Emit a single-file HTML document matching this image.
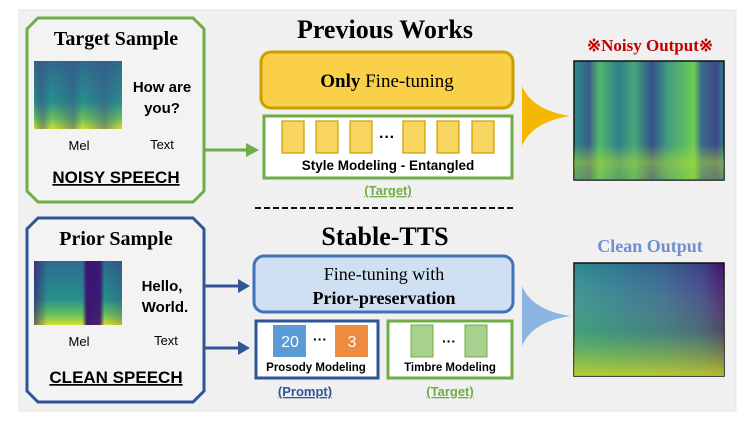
<!DOCTYPE html>
<html><head><meta charset="utf-8"><style>
body{margin:0;background:#fff;width:752px;height:426px;overflow:hidden}
svg{display:block}
.s{font-family:"Liberation Sans","DejaVu Sans",sans-serif}
.t{font-family:"Liberation Serif",serif;font-weight:bold}
</style></head><body>
<svg width="752" height="426" viewBox="0 0 752 426">
<defs>
<linearGradient id="v1" x1="0" y1="0" x2="0" y2="1"><stop offset="0" stop-color="#2f6a8e"/><stop offset=".6" stop-color="#27908b"/><stop offset=".85" stop-color="#6cc35a"/><stop offset="1" stop-color="#d6e02a"/></linearGradient>
<linearGradient id="h1" x1="0" y1="0" x2="1" y2="0">
<stop offset="0" stop-color="#440d5a" stop-opacity=".0"/><stop offset=".1" stop-color="#3b528b" stop-opacity=".5"/><stop offset=".2" stop-color="#3b528b" stop-opacity="0"/><stop offset=".45" stop-color="#3b528b" stop-opacity=".5"/><stop offset=".55" stop-color="#3b528b" stop-opacity="0"/><stop offset=".8" stop-color="#3b528b" stop-opacity=".5"/><stop offset="1" stop-color="#3b528b" stop-opacity="0"/></linearGradient>
<linearGradient id="h2" x1="0" y1="0" x2="1" y2="0">
<stop offset="0" stop-color="#3b0f70" stop-opacity=".6"/><stop offset=".15" stop-color="#3b0f70" stop-opacity="0"/><stop offset=".55" stop-color="#3b0f70" stop-opacity="0"/><stop offset=".6" stop-color="#3b0f70" stop-opacity=".95"/><stop offset=".75" stop-color="#3b0f70" stop-opacity=".9"/><stop offset=".8" stop-color="#3b0f70" stop-opacity="0"/><stop offset="1" stop-color="#3b0f70" stop-opacity=".2"/></linearGradient>
<linearGradient id="n1" x1="0" y1="0" x2="1" y2="0">
<stop offset="0" stop-color="#2a8f85"/><stop offset=".1" stop-color="#3a5d8c"/><stop offset=".17" stop-color="#4fb86a"/><stop offset=".3" stop-color="#2f7f8c"/><stop offset=".4" stop-color="#45a878"/><stop offset=".52" stop-color="#34508b"/><stop offset=".62" stop-color="#3f9a82"/><stop offset=".8" stop-color="#6dcc55"/><stop offset=".85" stop-color="#3a6a8c"/><stop offset=".95" stop-color="#3d4a8a"/><stop offset="1" stop-color="#2f7f8c"/></linearGradient>
<linearGradient id="c1" x1="0" y1="0" x2="1" y2="0">
<stop offset="0" stop-color="#2e8a8c"/><stop offset=".3" stop-color="#2c7590"/><stop offset=".6" stop-color="#34608d"/><stop offset=".85" stop-color="#3a3f85"/><stop offset="1" stop-color="#40106a"/></linearGradient>
<linearGradient id="c2" x1="0" y1="0" x2="0" y2="1"><stop offset="0" stop-color="#fff" stop-opacity="0"/><stop offset=".6" stop-color="#6fcf57" stop-opacity=".3"/><stop offset="1" stop-color="#d8e219" stop-opacity=".8"/></linearGradient>
<linearGradient id="n2" x1="0" y1="0" x2="0" y2="1"><stop offset="0" stop-color="#fff" stop-opacity="0"/><stop offset=".7" stop-color="#b5de2b" stop-opacity="0"/><stop offset=".85" stop-color="#b5de2b" stop-opacity=".5"/><stop offset="1" stop-color="#b5de2b" stop-opacity=".3"/></linearGradient>
</defs>
<rect x="19" y="10" width="717" height="401" fill="#f0f0f0" stroke="#e6e6e6"/>
<!-- left boxes -->
<polygon points="38,18 193,18 204,29 204,191 193,202 38,202 27,191 27,29" fill="#f3f3f3" stroke="#70ad47" stroke-width="3"/>
<polygon points="38,218 193,218 204,229 204,391 193,402 38,402 27,391 27,229" fill="#f3f3f3" stroke="#2f5597" stroke-width="3"/>
<text x="116" y="45" text-anchor="middle" class="t" font-size="20">Target Sample</text>
<text x="116" y="245" text-anchor="middle" class="t" font-size="20">Prior Sample</text>
<rect x="34" y="61" width="88" height="68" fill="url(#v1)"/><rect x="34" y="61" width="88" height="68" fill="url(#h1)"/>
<rect x="34" y="261" width="88" height="64" fill="url(#v1)"/><rect x="34" y="261" width="88" height="64" fill="url(#h2)"/>
<g class="s" font-weight="bold" font-size="15" text-anchor="middle"><text x="162" y="92">How are</text><text x="162" y="113">you?</text><text x="162" y="291">Hello,</text><text x="165" y="312">World.</text></g>
<g class="s" font-size="13" text-anchor="middle"><text x="79" y="150">Mel</text><text x="162" y="149">Text</text><text x="79" y="346">Mel</text><text x="166" y="345">Text</text></g>
<g class="s" font-weight="bold" font-size="17" text-anchor="middle"><text x="116" y="183" text-decoration="underline">NOISY SPEECH</text><text x="116" y="383" text-decoration="underline">CLEAN SPEECH</text></g>
<!-- arrows -->
<g stroke-width="3"><line x1="205" y1="150" x2="250" y2="150" stroke="#70ad47"/><line x1="205" y1="286" x2="242" y2="286" stroke="#2f5597"/><line x1="205" y1="348" x2="242" y2="348" stroke="#2f5597"/></g>
<polygon points="246,143 259,150 246,157" fill="#70ad47"/>
<polygon points="238,279 250,286 238,293" fill="#2f5597"/><polygon points="238,341 250,348 238,355" fill="#2f5597"/>
<!-- previous works -->
<text x="385" y="38" text-anchor="middle" class="t" font-size="26">Previous Works</text>
<rect x="261" y="52" width="252" height="56" rx="10" fill="#f9d048" stroke="#c9a000" stroke-width="3"/>
<text x="387" y="87" text-anchor="middle" font-family="Liberation Serif,serif" font-size="19"><tspan font-weight="bold">Only</tspan> Fine-tuning</text>
<rect x="264" y="116" width="248" height="62" fill="#fff" stroke="#70ad47" stroke-width="3"/>
<g fill="#f8d55f" stroke="#c9a000" stroke-width="1.2"><rect x="282" y="121" width="22" height="32"/><rect x="316" y="121" width="22" height="32"/><rect x="350" y="121" width="22" height="32"/><rect x="403" y="121" width="22" height="32"/><rect x="437" y="121" width="22" height="32"/><rect x="472" y="121" width="22" height="32"/></g>
<text x="387" y="142" text-anchor="middle" class="s" font-weight="bold" font-size="16">···</text>
<text x="388" y="170" text-anchor="middle" class="s" font-weight="bold" font-size="13.5">Style Modeling - Entangled</text>
<text x="388" y="195" text-anchor="middle" class="s" font-weight="bold" font-size="13" fill="#70ad47" text-decoration="underline">(Target)</text>
<line x1="255" y1="208" x2="515" y2="208" stroke="#111" stroke-width="2" stroke-dasharray="6,3"/>
<!-- stable tts -->
<text x="385" y="245" text-anchor="middle" class="t" font-size="26">Stable-TTS</text>
<rect x="254" y="256" width="259" height="56" rx="10" fill="#cfe0f3" stroke="#3f72b8" stroke-width="3"/>
<text x="384" y="280" text-anchor="middle" font-family="Liberation Serif,serif" font-size="18">Fine-tuning with</text>
<text x="384" y="304" text-anchor="middle" class="t" font-size="18">Prior-preservation</text>
<rect x="256" y="321" width="122" height="57" fill="#fff" stroke="#2f5597" stroke-width="3"/>
<rect x="273" y="325" width="33" height="32" fill="#5b9bd5"/><rect x="335" y="325" width="33" height="32" fill="#ed8b40"/>
<g class="s" font-size="16" fill="#fff" text-anchor="middle"><text x="290" y="347">20</text><text x="352" y="347">3</text></g>
<text x="320" y="344" text-anchor="middle" class="s" font-weight="bold" font-size="14">···</text>
<text x="316" y="371" text-anchor="middle" class="s" font-weight="bold" font-size="11.5">Prosody Modeling</text>
<text x="305" y="396" text-anchor="middle" class="s" font-weight="bold" font-size="13" fill="#2f5597" text-decoration="underline">(Prompt)</text>
<rect x="388" y="321" width="124" height="57" fill="#fff" stroke="#70ad47" stroke-width="3"/>
<g fill="#a9d18e" stroke="#70ad47" stroke-width="1"><rect x="411" y="325" width="22" height="32"/><rect x="465" y="325" width="22" height="32"/></g>
<text x="449" y="346" text-anchor="middle" class="s" font-weight="bold" font-size="14">···</text>
<text x="450" y="371" text-anchor="middle" class="s" font-weight="bold" font-size="11.5">Timbre Modeling</text>
<text x="450" y="396" text-anchor="middle" class="s" font-weight="bold" font-size="13" fill="#70ad47" text-decoration="underline">(Target)</text>
<!-- funnels -->
<path d="M522,86 Q532,110 570,116 Q532,122 522,146 Z" fill="#f5b800"/>
<path d="M522,286 Q532,310 570,316 Q532,322 522,346 Z" fill="#8db4e2"/>
<!-- outputs -->
<text x="650" y="51" text-anchor="middle" class="t" font-size="17" fill="#c00000">※Noisy Output※</text>
<text x="650" y="252" text-anchor="middle" class="t" font-size="18" fill="#6f8fd0">Clean Output</text>
<rect x="574" y="61" width="150" height="119" fill="url(#n1)" stroke="#111" stroke-width="1.5"/>
<rect x="574" y="61" width="150" height="119" fill="url(#n2)"/>
<rect x="574" y="263" width="150" height="113" fill="url(#c1)" stroke="#111" stroke-width="1.5"/>
<rect x="574" y="263" width="150" height="113" fill="url(#c2)"/>
</svg>
</body></html>
